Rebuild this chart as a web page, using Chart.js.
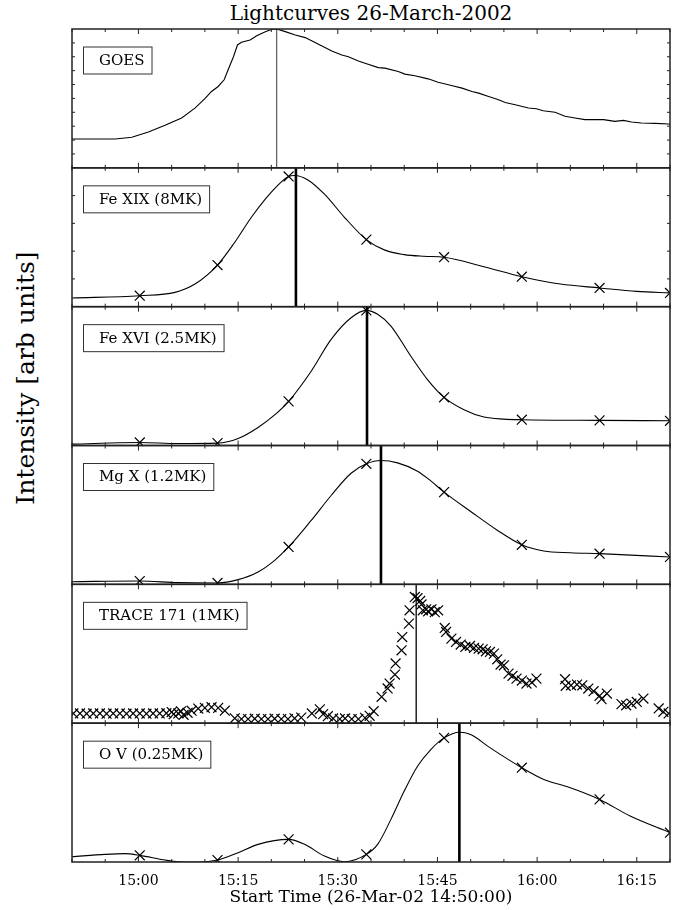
<!DOCTYPE html>
<html lang="en">
<head>
<meta charset="UTF-8">
<title>Lightcurves 26-March-2002</title>
<script src="https://cdn.jsdelivr.net/npm/chart.js@4"></script>
<style>
  body { margin: 0; background: #fff; }
  #wrap { position: relative; width: 683px; height: 910px; font-family: 'DejaVu Serif', serif; color: #000; }
  #title { position: absolute; left: 72px; width: 598px; top: 1px; text-align: center; font-size: 20px; }
  #ylabel { position: absolute; left: 25px; top: 378px; transform: translate(-50%, -50%) rotate(-90deg); font-size: 25px; white-space: nowrap; }
  canvas { position: absolute; left: 0; top: 0; }
</style>
</head>
<body>
<div id="wrap">
  <div id="title">Lightcurves 26-March-2002</div>
  <div id="ylabel">Intensity [arb units]</div>
  <canvas id="lc" width="683" height="910"></canvas>
</div>
<script>
// times are minutes after 14:50:00, intensities normalised to each panel (0..1)
const startLabel = '26-Mar-02 14:50:00';
const panelNames = ['GOES', 'Fe XIX (8MK)', 'Fe XVI (2.5MK)', 'Mg X (1.2MK)', 'TRACE 171 (1MK)', 'O V (0.25MK)'];
const tickTimes = [10, 25, 40, 55, 70, 85];
const tickLabels = ['15:00', '15:15', '15:30', '15:45', '16:00', '16:15'];
const peakTimes = [30.8, 33.7, 44.4, 46.5, 51.8, 58.3];
const yTickStep = [0.1, 0.2, 0, 0, 0, 0];

const goesT = [0, 6.5, 9, 11.5, 14, 16.5, 18.5, 20, 21, 22, 22.9, 23.5, 24.3, 24.9, 25.5, 26.8, 27.8, 29.1, 30.1, 30.8,
  32.1, 33.6, 35.1, 37.1, 39.1, 40.6, 41.6, 43.1, 44.1, 46.1, 47.1, 49.1, 50.1, 51.6, 53.6, 55.1, 57.1, 58.7, 60.2,
  61.2, 62.7, 64.2, 65.2, 66.7, 68.7, 69.9, 70.9, 72.7, 74.2, 75.7, 77.2, 80.0, 81.7, 83.0, 84.2, 85.7, 87.8, 89.8, 90];
const goesI = [.208, .208, .22, .258, .306, .359, .43, .498, .55, .586, .634, .706, .80, .885, .904, .921, .952, .981, .998, 1.0,
  .981, .957, .938, .89, .842, .813, .80, .77, .754, .722, .718, .694, .675, .663, .641, .617, .593, .574, .55,
  .538, .514, .49, .471, .455, .431, .426, .411, .40, .371, .359, .347, .347, .335, .342, .33, .323, .32, .316, .315];

// CDS raster times and measured points
const cdsT = [10.2, 21.9, 32.6, 44.3, 56.0, 67.7, 79.4, 90.0];
const fe19Obs = [.079, .300, .938, .483, .356, .216, .135, .099];
const fe16Obs = [.022, .017, .318, .973, .347, .186, .181, .178];
const mg10Obs = [.024, .010, .269, .868, .664, .285, .221, .197];
const ovObs = [.048, .014, .163, .055, .894, .679, .451, .211];

// fitted curves
const fe19CurveT = [0, 10.2, 15.5, 18.5, 21.9, 24.5, 27, 30, 32.6, 33.5, 35.5, 38, 41, 44.3, 47, 50, 53, 56, 62, 67.7, 73.5, 79.4, 85, 90];
const fe19CurveI = [.0625, .079, .103, .163, .300, .464, .644, .825, .938, .945, .913, .81, .644, .483, .409, .375, .363, .356, .288, .216, .163, .135, .11, .099];
const fe16CurveT = [0, 10.2, 16, 21.9, 25, 28, 30.5, 32.6, 36, 39, 42, 44.3, 46, 48, 51, 53.5, 56, 59, 62, 65, 67.7, 79.4, 90];
const fe16CurveI = [.010, .022, .014, .017, .05, .13, .22, .318, .535, .764, .92, .973, .945, .86, .643, .475, .347, .258, .205, .19, .186, .181, .178];
const mg10CurveT = [0, 10.2, 16, 21.9, 25, 28, 30.5, 32.6, 36, 39, 42, 44.3, 46.5, 49, 52, 54, 56, 60, 64, 67.7, 71, 75, 79.4, 90];
const mg10CurveI = [.019, .024, .012, .010, .034, .089, .173, .269, .46, .64, .80, .868, .892, .875, .815, .745, .664, .525, .39, .285, .24, .228, .221, .197];
const ovCurveT = [0, 5, 8, 10.2, 14, 16, 19, 21.9, 25, 28, 32.6, 35, 38, 41, 44.3, 46, 48, 50, 52, 54, 56, 58.3, 60, 63, 67.7, 71, 75, 79.4, 84, 90];
const ovCurveI = [.038, .055, .06, .048, .014, .002, 0, .014, .067, .127, .163, .127, .043, .002, .055, .127, .307, .511, .69, .81, .894, .935, .918, .82, .679, .595, .535, .451, .331, .211];

const traceT = [0.2, 1.2, 2.2, 3.2, 4.2, 5.2, 6.2, 7.2, 8.2, 9.2, 10.2, 11.2, 12.2, 13.2, 14.2, 15.0, 15.3, 16.0, 16.4, 16.8,
  17.4, 18.0, 19.0, 20.0, 21.0, 22.0, 23.0, 24.5, 25.5, 26.5, 27.5, 28.5, 29.5, 30.5, 31.5, 32.5, 33.5, 34.5,
  36.1, 37.3, 37.8, 38.5, 39.3, 40.3, 41.1, 42.1, 43.1, 44.1, 44.8, 45.4, 46.6, 47.5, 47.8, 48.6, 48.7, 49.6, 49.7,
  50.7, 50.8, 51.6, 52.0, 52.4, 52.6, 52.8, 53.3, 53.6, 54.1, 54.6, 55.1, 56.1, 56.3, 57.1, 57.8, 58.5, 59.2, 59.9,
  60.5, 61.2, 61.8, 62.3, 62.9, 63.5, 64.0, 64.5, 65.0, 65.7, 66.3, 66.9, 67.7, 68.4, 69.2, 69.9,
  74.2, 74.3, 75.1, 76.0, 76.8, 77.7, 78.5, 79.4, 79.7, 80.5, 82.7, 83.4, 84.2, 85.0, 86.0, 88.3, 89.0, 89.8];
const traceI = [.07, .07, .068, .07, .07, .068, .07, .07, .068, .07, .07, .068, .07, .07, .072, .08, .065, .07, .085, .06,
  .075, .09, .105, .11, .115, .11, .09, .035, .03, .03, .032, .03, .03, .032, .03, .03, .035, .04,
  .07, .10, .065, .05, .034, .03, .034, .03, .03, .038, .053, .086, .19, .25, .285, .35, .43, .525, .62,
  .717, .813, .909, .90, .88, .855, .813, .82, .806, .82, .80, .813, .686, .657, .609, .585, .566, .549, .556,
  .542, .537, .532, .518, .513, .501, .46, .422, .417, .357, .341, .321, .307, .285, .293, .321,
  .317, .269, .273, .278, .273, .249, .23, .197, .173, .213, .137, .129, .141, .153, .177, .106, .082, .07];

function pts(xs, ys) {
  return xs.map((x, i) => ({x: x, y: ys[i]}));
}

function curve(i, xs, ys, smooth) {
  return {data: pts(xs, ys), yAxisID: 'y' + i, borderColor: '#000', borderWidth: 1.1, pointRadius: 0,
    fill: false, tension: smooth ? 0.4 : 0, cubicInterpolationMode: smooth ? 'monotone' : 'default'};
}

function marks(i, xs, ys) {
  return {data: pts(xs, ys), yAxisID: 'y' + i, showLine: false, pointStyle: 'crossRot', pointRadius: 7,
    pointBorderWidth: 1.2, pointBorderColor: '#000', pointBackgroundColor: '#000'};
}

function peakLine(i) {
  const thin = i === 0 || i === 4;
  return {data: [{x: peakTimes[i], y: 0}, {x: peakTimes[i], y: 1}], yAxisID: 'y' + i, pointRadius: 0,
    borderColor: i === 0 ? '#666' : '#000', borderWidth: thin ? 1.3 : 2.6, fill: false};
}

const datasets = [
  curve(0, goesT, goesI, false), peakLine(0),
  curve(1, fe19CurveT, fe19CurveI, true), marks(1, cdsT, fe19Obs), peakLine(1),
  curve(2, fe16CurveT, fe16CurveI, true), marks(2, cdsT, fe16Obs), peakLine(2),
  curve(3, mg10CurveT, mg10CurveI, true), marks(3, cdsT, mg10Obs), peakLine(3),
  marks(4, traceT, traceI), peakLine(4),
  curve(5, ovCurveT, ovCurveI, true), marks(5, cdsT, ovObs), peakLine(5)
];

const scales = {
  x: {
    type: 'linear', position: 'bottom', min: 0, max: 90,
    grid: {display: false, drawTicks: false}, border: {display: false},
    ticks: {stepSize: 5, autoSkip: false, maxRotation: 0, padding: 11, color: '#000', font: {size: 14},
      callback: v => { const k = tickTimes.indexOf(v); return k < 0 ? '' : tickLabels[k]; }},
    title: {display: true, text: 'Start Time (' + startLabel + ')', color: '#000', font: {size: 17}, padding: {top: 0, bottom: 0}},
    afterFit: s => { s.height = 46; }
  }
};
panelNames.forEach((n, i) => {
  scales['y' + i] = {
    type: 'linear', position: 'left', stack: 'panels', stackWeight: 1, weight: panelNames.length - i,
    min: 0, max: 1, grid: {display: false, drawTicks: false}, border: {display: false}, ticks: {display: false}
  };
});

// panel frames, inward tick marks and the label boxes
const panelFrames = {
  id: 'panelFrames',
  afterDatasetsDraw(chart) {
    const {ctx, chartArea} = chart;
    const left = chartArea.left, right = chartArea.right;
    const xs = chart.scales.x;
    ctx.save();
    panelNames.forEach((name, i) => {
      const ys = chart.scales['y' + i];
      const top = ys.top, bot = ys.bottom;
      ctx.strokeStyle = '#222';
      ctx.lineWidth = 1;
      ctx.beginPath();
      xs.ticks.forEach(t => {
        const px = xs.getPixelForValue(t.value);
        const len = tickTimes.includes(t.value) ? 5 : 3;
        ctx.moveTo(px, top); ctx.lineTo(px, top + len);
        ctx.moveTo(px, bot); ctx.lineTo(px, bot - len);
      });
      if (yTickStep[i]) {
        for (let v = yTickStep[i]; v < 0.999; v += yTickStep[i]) {
          const py = ys.getPixelForValue(v);
          ctx.moveTo(left, py); ctx.lineTo(left + 3, py);
          ctx.moveTo(right, py); ctx.lineTo(right - 3, py);
        }
      }
      ctx.stroke();
      ctx.lineWidth = 1.5;
      ctx.strokeRect(left, top, right - left, bot - top);

      ctx.font = '15px "DejaVu Serif"';
      const w = ctx.measureText(name).width;
      const bx = left + 11, by = top + 17.5, bw = w + 23, bh = 27;
      ctx.fillStyle = '#fff';
      ctx.fillRect(bx, by, bw, bh);
      ctx.lineWidth = 1;
      ctx.strokeStyle = '#333';
      ctx.strokeRect(bx + 0.5, by + 0.5, bw, bh);
      ctx.fillStyle = '#000';
      ctx.textBaseline = 'middle';
      ctx.fillText(name, bx + 16, by + bh / 2 + 1);
    });
    ctx.restore();
  }
};

Chart.defaults.font.family = '"DejaVu Serif", serif';
Chart.defaults.color = '#000';

new Chart(document.getElementById('lc'), {
  type: 'line',
  data: {datasets: datasets},
  options: {
    responsive: false,
    animation: false,
    layout: {padding: {left: 72, top: 29, right: 13, bottom: 2}},
    scales: scales,
    plugins: {legend: {display: false}, tooltip: {enabled: false}}
  },
  plugins: [panelFrames]
});
</script>
</body>
</html>
